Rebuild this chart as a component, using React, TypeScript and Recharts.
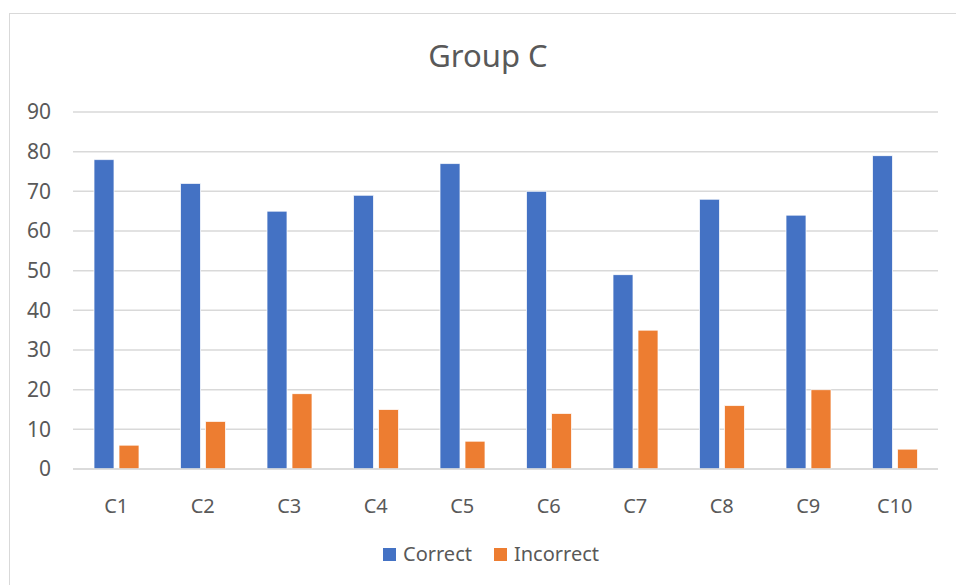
import { Bar, BarChart, CartesianGrid, XAxis, YAxis } from "recharts";

const categories = ["C1", "C2", "C3", "C4", "C5", "C6", "C7", "C8", "C9", "C10"];
const correct = [78, 72, 65, 69, 77, 70, 49, 68, 64, 79];
const incorrect = [6, 12, 19, 15, 7, 14, 35, 16, 20, 5];
const yTicks = [0, 10, 20, 30, 40, 50, 60, 70, 80, 90];

const BLUE = "#4472c4";
const ORANGE = "#ed7d31";
const TEXT = "#595959";
const GRID = "#d9d9d9";
const FONT = "'Noto Sans', 'Open Sans', sans-serif";

const data = categories.map((name, i) => ({
  name,
  correct: correct[i],
  incorrect: incorrect[i],
}));

const legendItems = [
  { label: "Correct", color: BLUE },
  { label: "Incorrect", color: ORANGE },
];

export default function App() {
  return (
    <div
      style={{
        position: "absolute",
        left: 0,
        top: 0,
        width: 956,
        height: 585,
        overflow: "hidden",
        background: "#fff",
      }}
    >
      <div
        style={{
          position: "absolute",
          left: 9,
          top: 13,
          width: 1100,
          height: 800,
          border: `1px solid ${GRID}`,
        }}
      />
      <div
        style={{
          position: "absolute",
          left: 0,
          top: 35,
          width: 976,
          textAlign: "center",
          fontFamily: FONT,
          fontSize: 31,
          color: TEXT,
          lineHeight: "40px",
        }}
      >
        Group C
      </div>
      <div style={{ position: "absolute", left: 0, top: 0 }}>
        <BarChart
          width={956}
          height={585}
          data={data}
          margin={{ top: 112, right: 18, bottom: 76, left: 0 }}
          barCategoryGap={21}
          barGap={5}
        >
          <CartesianGrid vertical={false} stroke={GRID} strokeWidth={1.5} />
          <XAxis
            dataKey="name"
            axisLine={{ stroke: GRID, strokeWidth: 1.5 }}
            tickLine={false}
            tickMargin={24}
            height={40}
            tick={{ fill: TEXT, fontSize: 20, fontFamily: FONT }}
          />
          <YAxis
            width={73}
            domain={[0, 90]}
            ticks={yTicks}
            axisLine={false}
            tickLine={false}
            tickSize={0}
            tickMargin={22}
            tick={{ fill: TEXT, fontSize: 21, fontFamily: FONT }}
          />
          <Bar
            dataKey="correct"
            name="Correct"
            fill={BLUE}
            stroke="#fff"
            strokeWidth={0.75}
            isAnimationActive={false}
          />
          <Bar
            dataKey="incorrect"
            name="Incorrect"
            fill={ORANGE}
            stroke="#fff"
            strokeWidth={0.75}
            isAnimationActive={false}
          />
        </BarChart>
      </div>
      <div
        style={{
          position: "absolute",
          left: 383,
          top: 544,
          display: "flex",
          alignItems: "center",
          fontFamily: FONT,
        }}
      >
        {legendItems.map((item, i) => (
          <div
            key={item.label}
            style={{ display: "flex", alignItems: "center", marginLeft: i === 0 ? 0 : 22 }}
          >
            <span
              style={{ width: 13, height: 13, background: item.color, display: "inline-block" }}
            />
            <span style={{ marginLeft: 7, fontSize: 20, color: TEXT, lineHeight: "20px" }}>
              {item.label}
            </span>
          </div>
        ))}
      </div>
    </div>
  );
}
